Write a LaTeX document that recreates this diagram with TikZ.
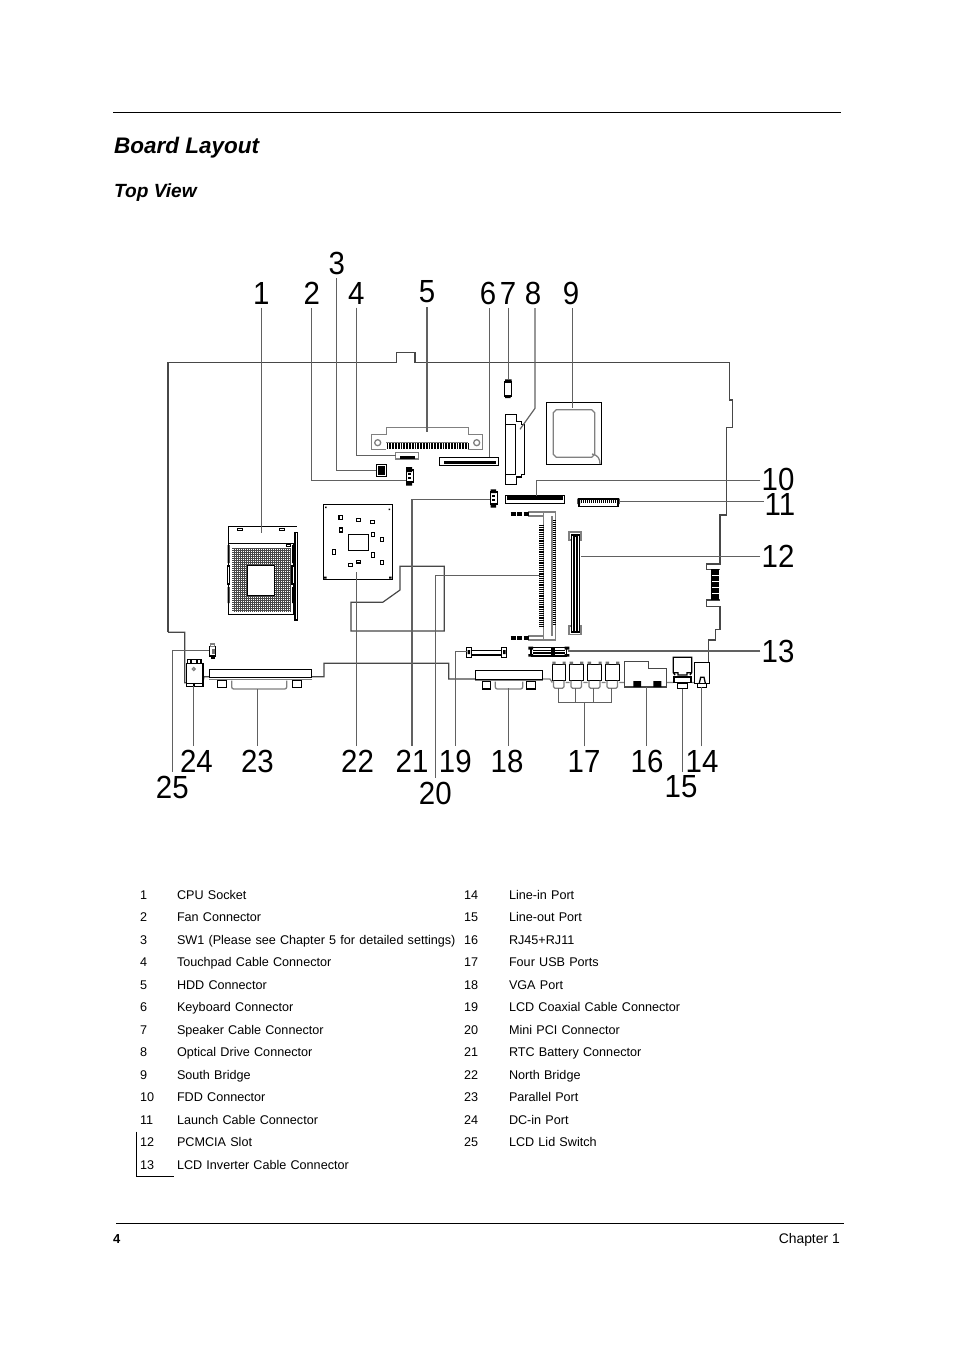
\documentclass[tikz,border=0pt]{standalone}
\usepackage{fontspec}
\setmainfont{Liberation Sans}
\newfontfamily\numfont[FakeStretch=.92]{Liberation Sans}
\usetikzlibrary{positioning}
\tikzset{
  callout/.style={inner xsep=1pt,inner ysep=3.5pt,font=\numfont\fontsize{32}{32}\selectfont},
  leader/.style={draw=black!62,line width=1.2pt},
  outline/.style={draw=black!72,line width=1.2pt},
  part/.style={draw=black,line width=1.3pt},
  thinpart/.style={draw=black!50,line width=1.3pt},
  cell/.style={inner sep=0pt,text height=9.2pt,text depth=3.2pt,align=left,font=\fontsize{12.62}{14}\selectfont},
  numcell/.style={cell,text width=30pt},
  textcell/.style={cell,text width=300pt},
}
\begin{document}
\begin{tikzpicture}[x=1pt,y=-1pt,node distance=22.5pt,on grid]
  \useasboundingbox (0,0) rectangle (954,1351);

  \coordinate (rule_a) at (113,112.5);
  \coordinate (rule_b) at (841,112.5);
  \draw[line width=1.2pt] (rule_a) -- (rule_b);
  \coordinate (rule_c) at (116,1223.5);
  \coordinate (rule_d) at (844,1223.5);
  \draw[line width=1.2pt] (rule_c) -- (rule_d);
  \node[anchor=base west,inner sep=0pt,font=\bfseries\itshape\fontsize{22.5}{24}\selectfont] (title) at (114,154) {Board Layout};
  \node[anchor=base west,inner sep=0pt,font=\bfseries\itshape\fontsize{19.1}{20}\selectfont] (subtitle) at (114,197) {Top View};
  \node[anchor=base west,inner sep=0pt,font=\bfseries\fontsize{13}{14}\selectfont] (pageno) at (113,1243) {4};
  \node[anchor=base east,inner sep=0pt,font=\fontsize{13.9}{14}\selectfont] (chapter) at (840,1243) {Chapter 1};

  % board edge
  \draw[outline] (168,632.3) -- (168,362.5) -- (396.7,362.5) -- (396.7,352.7) -- (415,352.7) -- (415,362.5)
    -- (729.3,362.5) -- (729.3,400) -- (732.3,400) -- (732.3,427.3) -- (726.3,427.3) -- (726.3,515)
    -- (720,515) -- (720,564) -- (706.7,564) -- (706.7,569.3) -- (719.5,569.3)
    (719.5,600) -- (706.7,600) -- (706.7,606.7) -- (720,606.7) -- (720,629.3) -- (715.3,629.3)
    -- (715.3,640) -- (708.7,640) -- (708.7,662);
  \draw[outline] (168,632.3) -- (184.7,632.3) -- (184.7,682.7) -- (186.3,682.7)
    (203,681.7) -- (204,676.7) -- (209.3,676.7)
    (311.7,676.7) -- (324,676.7) -- (324,663.3) -- (448.7,663.3) -- (448.7,679) -- (475.3,679);
  \draw[thinpart] (542.7,679) -- (550,679) -- (552.3,682.5) (565.7,682.5) -- (569.7,682.5)
    (583.3,682.5) -- (587.7,682.5) (601.7,682.5) -- (605.7,682.5) (619.3,682.5) -- (624.3,682.5)
    (666.7,682.5) -- (673.3,682.5) (691.7,682.5) -- (694.3,682.5);
  \draw[outline] (351,602.3) -- (382.7,602.3) -- (400,590) -- (400,566.3) -- (444.3,566.3) -- (444.3,631) -- (351,631) -- cycle;
  \fill (711,569.3) rectangle (719.3,600.3);
  \draw[white,line width=.8pt] (712,575) -- (719,575) (712,581) -- (719,581) (712,587) -- (719,587) (712,593) -- (719,593);

  % cpu socket
  \draw[part] (228.3,614.3) -- (228.3,526.7) -- (297,526.7) (228.3,543.3) -- (293.3,543.3) -- (293.3,614.3) -- (228.3,614.3);
  \draw[step=2pt,black!72,line width=.9pt] (232.3,547.7) grid (290,611.7);
  \draw[part,fill=white,line width=1.4pt] (247.3,565.7) rectangle (274.3,595.7);
  \draw[part,fill=white] (295,532.3) rectangle (297.7,620);
  \draw[part] (237.3,528.3) rectangle (242.7,530.7) (279.3,528.3) rectangle (284.7,530.7) (286.7,544) rectangle (290.7,546.3);
  \fill (227.5,545) rectangle (229.5,563) (227.5,587) rectangle (229.5,603) (292,545) rectangle (294,563) (292,587) rectangle (294,603);
  \draw[part,fill=white] (292,566) rectangle (294.5,584);
  \draw[part,fill=white] (227.5,566) rectangle (229.5,584);

  % north bridge
  \draw[part] (323.3,504.3) rectangle (392.7,579.3) (348.3,534.3) rectangle (368.7,550.7);
  \draw[part] (339,515.3) rectangle (342.4,519.3) (356.3,518.7) rectangle (360.3,521.3) (370.3,520.5) rectangle (374.3,523.5)
    (339.3,528) rectangle (342.7,532) (371.7,532.7) rectangle (374.3,536.7) (380.3,537.3) rectangle (383.7,541.3)
    (332.7,549.3) rectangle (335.3,554.7) (371.7,552.3) rectangle (374.3,557.7) (380.3,560.3) rectangle (383.7,564.3)
    (356.7,560.3) rectangle (360.7,563) (348.3,563.3) rectangle (352.3,566.7);
  \fill (324,576.5) rectangle (326.5,578.5) (389,576.5) rectangle (391.5,578.5) (325,506.5) rectangle (326.5,508) (388.5,508.5) rectangle (390,510);

  % hdd, touchpad, sw1, fan, keyboard
  \draw[thinpart] (386.3,449.3) -- (371.3,449.3) -- (371.3,434.3) -- (386.3,434.3) -- (386.3,427.3) -- (468.3,427.3) -- (468.3,434.3)
    -- (482.7,434.3) -- (482.7,449.3) -- (468.3,449.3) (386.3,442.3) -- (468.3,442.3);
  \draw[thinpart] (377.7,442.7) circle (3) (476.7,442.7) circle (3);
  \draw[line width=6.5pt,dash pattern=on 1.8pt off 1pt] (386.5,446) -- (468.3,446);
  \draw[thinpart] (395.7,452.3) rectangle (418.7,459);
  \fill (400,456) rectangle (415,458.5);
  \draw[part] (376.3,464.3) rectangle (386.7,476.7);
  \fill (378.3,466.3) rectangle (384.7,474.7);
  \fill (406,467) rectangle (412,472) (406,481) rectangle (412,485.7);
  \draw[part] (406.5,470) rectangle (413.5,482);
  \draw[part] (408,474) -- (410.5,474) (408,478) -- (410.5,478);
  \draw[part] (439.3,457.3) rectangle (498.3,465.7);
  \fill (444,461) rectangle (496,463.5);

  % speaker, optical, south bridge
  \draw[part] (504.8,382) rectangle (511.5,396);
  \fill (505,379.3) rectangle (511.5,382) (505,395) rectangle (510.5,398);
  \draw[part] (505.3,414.3) -- (516.3,414.3) -- (516.3,421.7) -- (521.7,421.7) -- (521.7,424.3) -- (524.3,424.3) -- (524.3,474.3)
    -- (521.7,474.3) -- (521.7,477) -- (516.3,477) -- (516.3,484.3) -- (505.3,484.3) -- cycle
    (505.3,424.3) -- (515.7,424.3) -- (515.7,474.3) -- (505.3,474.3);
  \draw[part] (546.3,402.3) rectangle (601.7,464.3);
  \draw[thinpart] (556.3,409.7) -- (591.7,409.7) -- (594.7,412.7) -- (594.7,454.3) -- (591.7,457.3) -- (556.3,457.3) -- (553.3,454.3) -- (553.3,412.7) -- cycle;
  \draw[thinpart] (592,454) .. controls (598,455) and (600,459) .. (600,464);

  % fdd, launch, rtc
  \draw[part] (505.3,495.3) rectangle (564.7,503.7);
  \fill (507,496) rectangle (562.5,500);
  \draw[part] (579,499) rectangle (618,506.3);
  \fill (577.3,498.7) rectangle (580,504) (617,498.7) rectangle (619.7,504);
  \draw[line width=3pt,dash pattern=on 1.2pt off .8pt] (581,501) -- (616,501);
  \fill (490.5,489.3) rectangle (496,493) (490.5,503) rectangle (496,507.7);
  \draw[part] (490.5,492) rectangle (497.5,504);
  \draw[part] (492,496) -- (495,496) (492,500) -- (495,500);

  % mini pci
  \draw[thinpart] (528,512) -- (555.5,512) -- (555.5,640) -- (528,640) (543.5,512) -- (543.5,640) (552,516) -- (552,636) (528,516) -- (543.5,516) (528,636) -- (543.5,636);
  \draw[line width=5pt,dash pattern=on 1.2pt off 1pt] (541.5,525) -- (541.5,627.7);
  \draw[line width=2.6pt,dash pattern=on 1.2pt off .8pt] (554.5,520) -- (554.5,625.7);
  \draw[line width=3.4pt,dash pattern=on 5pt off 1.5pt] (510.5,514) -- (529,514) (510.5,638) -- (529,638);

  % pcmcia
  \draw[thinpart] (569,532) rectangle (581,540) (569,626) rectangle (581,634.3);
  \draw[part,fill=white] (571.5,535) rectangle (579.5,632);
  \draw[line width=2pt] (574,535.5) rectangle (577.3,631.5);

  % lcd coax, lcd inverter
  \draw[part] (466.7,647.3) rectangle (471.3,657.3) (501.7,647.3) rectangle (506.7,657.3);
  \draw[line width=1.6pt] (471.3,650.3) -- (501.7,650.3) (471.3,654.7) -- (501.7,654.7);
  \fill (467.5,650) rectangle (470,654) (503,650) rectangle (505.5,654);
  \draw[line width=1.8pt] (531,647.5) -- (566.5,647.5) (531,656) -- (566.5,656) (531,647.5) -- (531,656) (566.5,647.5) -- (566.5,656);
  \fill (528.3,646.7) rectangle (533,649.5) (528.3,654) rectangle (533,656.7) (564.5,646.7) rectangle (569.3,649.5) (564.5,654) rectangle (569.3,656.7);
  \draw[line width=1.2pt] (533,650.5) -- (564.5,650.5) (533,653) -- (564.5,653) (552,648) -- (552,655.5) (554,648) -- (554,655.5);

  % vga, usb, rj45, jacks
  \draw[part] (475.3,670.7) rectangle (542.7,679.3);
  \draw[thinpart] (475.3,680.5) -- (542.7,680.5);
  \draw[part] (482.3,681.7) rectangle (490.7,689) (526.3,681.7) rectangle (535.7,689);
  \draw[thinpart,rounded corners=2pt] (495.3,681.7) -- (495.3,689) -- (522.7,689) -- (522.7,681.7);
  \draw[part] (552.3,664.3) rectangle (565.7,680.7) (569.7,664.3) rectangle (583.3,680.7) (587.7,664.3) rectangle (601.7,680.7) (605.7,664.3) rectangle (619.3,680.7);
  \fill[black!55] (552.3,661.5) rectangle (555.5,664.3) (562.5,661.5) rectangle (565.7,664.3) (569.7,661.5) rectangle (573,664.3) (580,661.5) rectangle (583.3,664.3)
    (587.7,661.5) rectangle (591,664.3) (598.5,661.5) rectangle (601.7,664.3) (605.7,661.5) rectangle (609,664.3) (616,661.5) rectangle (619.3,664.3);
  \draw[thinpart,rounded corners=1.5pt] (553.5,680.7) -- (553.5,688.3) -- (564,688.3) -- (564,680.7) (571,680.7) -- (571,688.3) -- (581.5,688.3) -- (581.5,680.7)
    (589,680.7) -- (589,688.3) -- (600,688.3) -- (600,680.7) (607,680.7) -- (607,688.3) -- (617.5,688.3) -- (617.5,680.7);
  \draw[outline] (624.3,687) -- (624.3,661.3) -- (648.7,661.3) -- (648.7,668.3) -- (666.7,668.3) -- (666.7,687) -- cycle;
  \fill (633.3,681) rectangle (641,687) (653.3,681) rectangle (661.3,687);
  \draw[part] (675,675) -- (673.3,672.7) -- (673.3,657.3) -- (691.7,657.3) -- (691.7,672.7) -- (690,675) (673.3,672.7) -- (678,672.7) -- (678,675) -- (687,675) -- (687,672.7) -- (691.7,672.7);
  \draw[part,line width=1.7pt] (674,677) rectangle (691,682.5);
  \draw[part] (677.3,683.3) rectangle (687.7,688.7);
  \draw[part] (694.3,662.3) rectangle (709.7,683.3) (697.3,683.3) rectangle (706.7,687.7);
  \draw[part] (699.3,683) -- (700.7,677.3) -- (704,677.3) -- (705.3,683);

  % parallel, dc-in, lid switch
  \draw[part] (209.3,669.3) rectangle (311.7,677.3);
  \draw[thinpart] (209.3,679.5) -- (311.7,679.5);
  \draw[part] (217.3,680.7) rectangle (226.7,687.3) (292.3,680.7) rectangle (301.7,687.3);
  \draw[thinpart,rounded corners=2pt] (231.7,680.7) -- (231.7,689) -- (286.7,689) -- (286.7,680.7);
  \draw[part] (186.3,663.3) rectangle (203,683.3) (187.5,659.3) rectangle (201,663.3) (186.3,683.3) rectangle (203,686.7);
  \draw[part] (191,659.3) -- (191,663.3) (197,659.3) -- (197,663.3) (194,683.3) -- (194,686.7);
  \draw[thinpart] (193.7,669) circle (1.5);
  \draw[part] (209.5,646.5) rectangle (215.8,656);
  \draw[thinpart] (210.5,644) rectangle (214.8,646.5);
  \fill (210.5,656) rectangle (215,659);
  \fill[black!55] (212,649) rectangle (215,654);

  % mount points of the leaders
  \coordinate (cpu) at (261.3,532.5);
  \coordinate (fan) at (406,480.3);
  \coordinate (sw1) at (376.3,470.3);
  \coordinate (touchpad) at (395.7,455.3);
  \coordinate (hdd) at (427,432.3);
  \coordinate (keyboard) at (489.3,457.3);
  \coordinate (speaker) at (508.3,379.3);
  \coordinate (odd_bend) at (535,408.3);
  \coordinate (odd) at (520,429.3);
  \coordinate (south) at (572.3,408.3);
  \coordinate (fdd_bend) at (536.7,480.7);
  \coordinate (fdd) at (536.7,496);
  \coordinate (launch) at (620,501.3);
  \coordinate (pcmcia) at (581,556.3);
  \coordinate (inverter) at (568,651);
  \coordinate (linein) at (701.7,687.3);
  \coordinate (lineout) at (682.3,689);
  \coordinate (rj45) at (646.7,686.7);
  \coordinate (usb_1) at (558.7,688);
  \coordinate (usb_2) at (575.7,688);
  \coordinate (usb_3) at (593.3,688);
  \coordinate (usb_4) at (611.3,688);
  \coordinate (usb_join) at (584.3,702.3);
  \coordinate (vga) at (508.3,688);
  \coordinate (coax) at (466.7,651.7);
  \coordinate (minipci) at (540,575.3);
  \coordinate (rtc) at (490,499.3);
  \coordinate (north) at (356.7,571.7);
  \coordinate (parallel) at (257.3,689);
  \coordinate (dcin) at (193.3,686);
  \coordinate (lid) at (209.3,650.3);

  \node[callout] (l_1)  at (261.3,293) {1};
  \node[callout] (l_2)  at (311.7,293) {2};
  \node[callout] (l_3)  at (336.7,263) {3};
  \node[callout] (l_4)  at (356.3,293) {4};
  \node[callout] (l_5)  at (427,292) {5};
  \node[callout] (l_6)  at (488,293) {6};
  \node[callout] (l_7)  at (508,293) {7};
  \node[callout] (l_8)  at (533,293) {8};
  \node[callout] (l_9)  at (571,293) {9};
  \node[callout] (l_10) at (778,479.5) {10};
  \node[callout] (l_11) at (780,504) {11};
  \node[callout] (l_12) at (778,556) {12};
  \node[callout] (l_13) at (778,651) {13};
  \node[callout] (l_14) at (702,761) {14};
  \node[callout] (l_15) at (681,787) {15};
  \node[callout] (l_16) at (647,761) {16};
  \node[callout] (l_17) at (584,761) {17};
  \node[callout] (l_18) at (507,761) {18};
  \node[callout] (l_19) at (455.3,761) {19};
  \node[callout] (l_20) at (435.3,793) {20};
  \node[callout] (l_21) at (412,761) {21};
  \node[callout] (l_22) at (357.5,761) {22};
  \node[callout] (l_23) at (257.5,761) {23};
  \node[callout] (l_24) at (196.5,761) {24};
  \node[callout] (l_25) at (172.3,787) {25};

  \draw[leader] (l_1.south -| cpu) -- (cpu);
  \draw[leader] (l_2) |- (fan);
  \draw[leader] (l_3) |- (sw1);
  \draw[leader] (l_4) |- (touchpad);
  \draw[leader] (l_5.south -| hdd) -- (hdd);
  \draw[leader] (l_6.south -| keyboard) -- (keyboard);
  \draw[leader] (l_7.south -| speaker) -- (speaker);
  \draw[leader] (l_8.south -| odd_bend) -- (odd_bend) -- (odd);
  \draw[leader] (l_9.south -| south) -- (south);
  \draw[leader] (l_10.west |- fdd_bend) -- (fdd_bend) -- (fdd);
  \draw[leader] (l_11.west |- launch) -- (launch);
  \draw[leader] (l_12.west |- pcmcia) -- (pcmcia);
  \draw[leader] (l_13.west |- inverter) -- (inverter);
  \draw[leader] (l_14.north -| linein) -- (linein);
  \draw[leader] (l_15.north -| lineout) -- (lineout);
  \draw[leader] (l_16.north -| rj45) -- (rj45);
  \draw[leader] (l_17.north -| usb_join) -- (usb_join);
  \draw[leader] (usb_1) |- (usb_join) -| (usb_4);
  \draw[leader] (usb_2) -- (usb_2 |- usb_join);
  \draw[leader] (usb_3) -- (usb_3 |- usb_join);
  \draw[leader] (l_18.north -| vga) -- (vga);
  \draw[leader] (l_19) |- (coax);
  \draw[leader] (l_20) |- (minipci);
  \draw[leader] (l_21) |- (rtc);
  \draw[leader] (l_22.north -| north) -- (north);
  \draw[leader] (l_23.north -| parallel) -- (parallel);
  \draw[leader] (l_24.north -| dcin) -- (dcin);
  \draw[leader] (l_25) |- (lid);

  \node[numcell] (n_1) at (155,896) {1};
  \node[textcell] (t_1) at (327,896) {CPU Socket};
  \node[numcell] (n_2) [below=of n_1] {2};
  \node[textcell] (t_2) [below=of t_1] {Fan Connector};
  \node[numcell] (n_3) [below=of n_2] {3};
  \node[textcell] (t_3) [below=of t_2] {SW1 (Please see Chapter 5 for detailed settings)};
  \node[numcell] (n_4) [below=of n_3] {4};
  \node[textcell] (t_4) [below=of t_3] {Touchpad Cable Connector};
  \node[numcell] (n_5) [below=of n_4] {5};
  \node[textcell] (t_5) [below=of t_4] {HDD Connector};
  \node[numcell] (n_6) [below=of n_5] {6};
  \node[textcell] (t_6) [below=of t_5] {Keyboard Connector};
  \node[numcell] (n_7) [below=of n_6] {7};
  \node[textcell] (t_7) [below=of t_6] {Speaker Cable Connector};
  \node[numcell] (n_8) [below=of n_7] {8};
  \node[textcell] (t_8) [below=of t_7] {Optical Drive Connector};
  \node[numcell] (n_9) [below=of n_8] {9};
  \node[textcell] (t_9) [below=of t_8] {South Bridge};
  \node[numcell] (n_10) [below=of n_9] {10};
  \node[textcell] (t_10) [below=of t_9] {FDD Connector};
  \node[numcell] (n_11) [below=of n_10] {11};
  \node[textcell] (t_11) [below=of t_10] {Launch Cable Connector};
  \node[numcell] (n_12) [below=of n_11] {12};
  \node[textcell] (t_12) [below=of t_11] {PCMCIA Slot};
  \node[numcell] (n_13) [below=of n_12] {13};
  \node[textcell] (t_13) [below=of t_12] {LCD Inverter Cable Connector};

  \node[numcell] (n_14) at (479,896) {14};
  \node[textcell] (t_14) at (659,896) {Line-in Port};
  \node[numcell] (n_15) [below=of n_14] {15};
  \node[textcell] (t_15) [below=of t_14] {Line-out Port};
  \node[numcell] (n_16) [below=of n_15] {16};
  \node[textcell] (t_16) [below=of t_15] {RJ45+RJ11};
  \node[numcell] (n_17) [below=of n_16] {17};
  \node[textcell] (t_17) [below=of t_16] {Four USB Ports};
  \node[numcell] (n_18) [below=of n_17] {18};
  \node[textcell] (t_18) [below=of t_17] {VGA Port};
  \node[numcell] (n_19) [below=of n_18] {19};
  \node[textcell] (t_19) [below=of t_18] {LCD Coaxial Cable Connector};
  \node[numcell] (n_20) [below=of n_19] {20};
  \node[textcell] (t_20) [below=of t_19] {Mini PCI Connector};
  \node[numcell] (n_21) [below=of n_20] {21};
  \node[textcell] (t_21) [below=of t_20] {RTC Battery Connector};
  \node[numcell] (n_22) [below=of n_21] {22};
  \node[textcell] (t_22) [below=of t_21] {North Bridge};
  \node[numcell] (n_23) [below=of n_22] {23};
  \node[textcell] (t_23) [below=of t_22] {Parallel Port};
  \node[numcell] (n_24) [below=of n_23] {24};
  \node[textcell] (t_24) [below=of t_23] {DC-in Port};
  \node[numcell] (n_25) [below=of n_24] {25};
  \node[textcell] (t_25) [below=of t_24] {LCD Lid Switch};

  \coordinate (bar_top) at (136.3,1131.7);
  \coordinate (bar_end) at (173.7,1176.3);
  \draw[line width=1.2pt] (bar_top) |- (bar_end);
\end{tikzpicture}
\end{document}
